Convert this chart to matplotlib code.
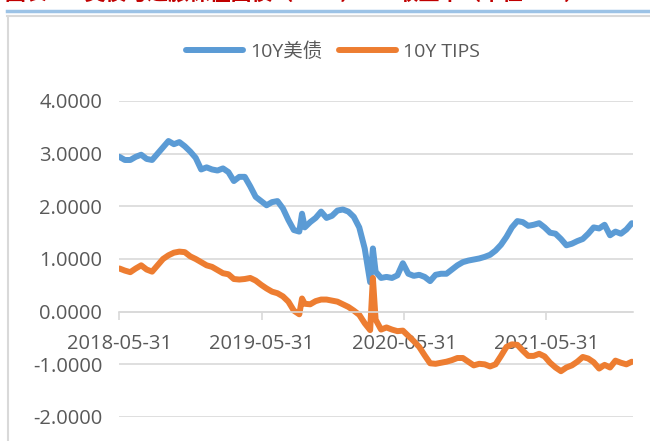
import pandas as pd
import matplotlib
matplotlib.use('Agg')
import matplotlib.pyplot as plt
import matplotlib.dates as mdates
from matplotlib.lines import Line2D

plt.rcParams['font.family'] = ['Open Sans', 'Noto Sans CJK SC', 'DejaVu Sans']

# Datas quinzenais + dois pontos extras (picos de set/2019 e mar/2020)
datas = pd.date_range('2018-05-31', '2022-01-06', freq='14D')
datas_extra = pd.to_datetime(['2019-09-12', '2020-03-12'])
datas = datas.append(datas_extra).sort_values()

# Rendimento do Tesouro americano de 10 anos (%)
ust_10y = [
    2.94, 2.88, 2.88, 2.94, 2.98, 2.90, 2.88, 3.00, 3.12, 3.24,
    3.18, 3.22, 3.14, 3.04, 2.92, 2.70, 2.74, 2.70, 2.68, 2.72,
    2.65, 2.48, 2.56, 2.56, 2.38, 2.18, 2.10, 2.02, 2.08, 2.10,
    1.96, 1.74, 1.55, 1.52, 1.86, 1.60, 1.70, 1.78, 1.90, 1.78,
    1.82, 1.92, 1.94, 1.90, 1.80, 1.60, 1.20, 0.56, 1.20, 0.76,
    0.64, 0.66, 0.64, 0.69, 0.92, 0.72, 0.68, 0.70, 0.66, 0.58,
    0.70, 0.72, 0.72, 0.80, 0.88, 0.94, 0.97, 0.99, 1.01, 1.04,
    1.08, 1.16, 1.27, 1.42, 1.60, 1.72, 1.70, 1.63, 1.65, 1.68,
    1.60, 1.50, 1.48, 1.38, 1.26, 1.29, 1.34, 1.38, 1.48, 1.60,
    1.58, 1.65, 1.45, 1.52, 1.48, 1.56, 1.68,
]

# Rendimento real (TIPS) de 10 anos (%)
tips_10y = [
    0.82, 0.78, 0.75, 0.82, 0.88, 0.80, 0.76, 0.88, 1.00, 1.07,
    1.12, 1.14, 1.13, 1.05, 1.00, 0.94, 0.88, 0.85, 0.79, 0.73,
    0.71, 0.62, 0.61, 0.62, 0.64, 0.59, 0.51, 0.44, 0.38, 0.35,
    0.29, 0.19, 0.02, -0.05, 0.25, 0.15, 0.14, 0.20, 0.23, 0.23,
    0.21, 0.19, 0.14, 0.09, 0.02, -0.06, -0.22, -0.35, 0.64, -0.15,
    -0.34, -0.30, -0.34, -0.37, -0.36, -0.46, -0.56, -0.67, -0.83, -0.98,
    -0.99, -0.97, -0.95, -0.92, -0.88, -0.88, -0.95, -1.02, -0.99, -1.00,
    -1.04, -1.00, -0.84, -0.67, -0.62, -0.63, -0.74, -0.84, -0.84, -0.80,
    -0.85, -0.97, -1.06, -1.13, -1.06, -1.02, -0.95, -0.86, -0.89, -0.96,
    -1.08, -1.01, -1.06, -0.93, -0.97, -1.00, -0.95,
]

ticks_x = pd.to_datetime(['2018-05-31', '2019-05-31', '2020-05-31', '2021-05-31'])
ticks_y = [-2, -1, 0, 1, 2, 3, 4]

cor_texto = '#595959'
cor_grade = '#d9d9d9'

fig = plt.figure(figsize=(6.5, 4.41), dpi=100)
ax = fig.add_axes([119 / 650, 1 - 417 / 441, (633 - 119) / 650, (417 - 101) / 441])

ax.plot(datas, ust_10y, color='#5b9bd5', linewidth=4.3, label='10Y美债',
        solid_joinstyle='round', solid_capstyle='round')
ax.plot(datas, tips_10y, color='#ed7d31', linewidth=4.3, label='10Y TIPS',
        solid_joinstyle='round', solid_capstyle='round')

ax.set_ylim(-2, 4)
ax.set_yticks(ticks_y)
ax.set_yticklabels([f'{v:.4f}' for v in ticks_y])
ax.set_xlim(pd.Timestamp('2018-05-30'), pd.Timestamp('2022-01-09'))
ax.set_xticks(ticks_x)
ax.xaxis.set_major_formatter(mdates.DateFormatter('%Y-%m-%d'))

ax.grid(axis='y', color=cor_grade, linewidth=1.2)
for lado in ['top', 'right', 'left']:
    ax.spines[lado].set_visible(False)
ax.spines['bottom'].set_position(('data', 0))
ax.spines['bottom'].set_color(cor_grade)
ax.spines['bottom'].set_linewidth(1.2)

ax.tick_params(axis='y', length=0, pad=12, labelsize=14.5, labelcolor=cor_texto)
ax.tick_params(axis='x', length=6, width=1.2, color=cor_grade, direction='out',
               pad=10, labelsize=14.5, labelcolor=cor_texto)

# Legenda centralizada no topo
fig.legend(loc='center', bbox_to_anchor=(333 / 650, 1 - 52 / 441), ncol=2,
           frameon=False, fontsize=14, handlelength=2.9, handletextpad=0.35,
           columnspacing=0.9, labelcolor=cor_texto)

# Moldura do gráfico e título cortado (como na imagem original)
fig.add_artist(Line2D([7 / 650, 1], [1 - 11 / 441, 1 - 11 / 441], color='#9dc3e6',
                      linewidth=2.5, transform=fig.transFigure))
fig.add_artist(Line2D([7 / 650, 1], [1 - 15.5 / 441, 1 - 15.5 / 441], color=cor_grade,
                      linewidth=1.5, transform=fig.transFigure))
fig.add_artist(Line2D([7.5 / 650, 7.5 / 650], [0, 1 - 15.5 / 441], color=cor_grade,
                      linewidth=1.5, transform=fig.transFigure))
fig.text(5 / 650, 1 + 0.5 / 441, '图表 3：美债与通胀保值国债（TIPS）10Y收益率（单位：%）',
         color='#c00000', fontsize=15, fontweight='bold', va='baseline',
         family=['Noto Sans CJK SC', 'DejaVu Sans'])

fig.savefig('out.png', dpi=100)
plt.close(fig)
